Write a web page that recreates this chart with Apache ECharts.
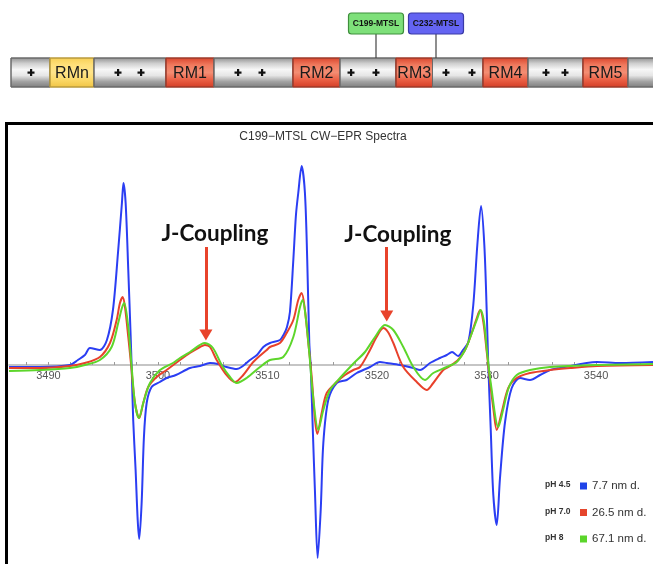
<!DOCTYPE html>
<html>
<head>
<meta charset="utf-8">
<script src="https://cdn.jsdelivr.net/npm/echarts@6/dist/echarts.min.js"></script>
<style>
html,body{margin:0;padding:0;background:#fff;}
#chart{width:653px;height:564px;}
</style>
</head>
<body>
<div id="chart"></div>
<script>
// ---------- Domain schematic (sequence positions along the bar) ----------
const domainStart = [11, 50, 94, 166, 214, 293, 340, 396, 432.5, 483, 528, 583, 628];
const domainEnd   = [50, 94, 166, 214, 293, 340, 396, 432.5, 483, 528, 583, 628, 665];
const domainName  = ['', 'RMn', '', 'RM1', '', 'RM2', '', 'RM3', '', 'RM4', '', 'RM5', ''];
const domainType  = ['linker','RMn','linker','RM','linker','RM','linker','RM','linker','RM','linker','RM','linker'];
const chargePos   = [31, 118, 141, 238, 262, 351, 376, 446, 472, 546, 565];
const siteName    = ['C199-MTSL', 'C232-MTSL'];
const sitePos     = [376, 436];

// ---------- EPR spectra ----------
const chartTitle = 'C199\u2212MTSL CW\u2212EPR Spectra';
const fieldLabels = [3490, 3500, 3510, 3520, 3530, 3540];
const fieldTicks = [3488,3490,3492,3494,3496,3498,3500,3502,3504,3506,3508,3510,3512,3514,3516,3518,3520,3522,3524,3526,3528,3530,3532,3534,3536,3538,3540,3542,3544];
const seriesNames = ['7.7 nm d.', '26.5 nm d.', '67.1 nm d.'];
const phLabels = ['pH 4.5', 'pH 7.0', 'pH 8'];

const ph45 = [[3486.4,-2],[3489.22,-2],[3491.96,0],[3492.69,5],[3493.33,10],[3493.79,17],[3494.7,15],[3495.34,25],[3495.89,55],[3496.35,112],[3496.71,162],[3496.85,182],[3497.05,162],[3497.29,95],[3497.51,28],[3497.6,-2],[3497.74,-55],[3497.96,-105],[3498.15,-155],[3498.29,-174],[3498.51,-138],[3498.72,-72],[3498.97,-38],[3499.42,-22],[3500.18,-17],[3500.79,-13],[3501.64,-10],[3502.92,-3],[3503.84,-1],[3504.75,2],[3505.48,1],[3506.27,-2],[3507.19,-4],[3507.76,-1],[3508.4,5],[3509.04,10],[3509.62,18],[3510.23,22],[3511.14,25],[3511.51,31],[3511.78,38],[3512.05,53],[3512.36,105],[3512.6,150],[3512.81,172],[3513.12,199],[3513.42,172],[3513.63,105],[3513.82,22],[3513.95,-2],[3514.13,-62],[3514.34,-128],[3514.58,-193],[3514.86,-145],[3515.1,-78],[3515.55,-35],[3516.32,-18],[3517.23,-15],[3518.15,-8],[3519.36,-2],[3520.27,3],[3520.89,2],[3522.1,0],[3523.32,-3],[3523.93,-5],[3524.84,2],[3525.75,7],[3526.37,10],[3526.85,13],[3527.4,9],[3527.85,15],[3528.34,23],[3528.79,60],[3529.16,120],[3529.5,159],[3529.8,120],[3530.02,53],[3530.16,0],[3530.38,-63],[3530.62,-130],[3530.93,-160],[3531.23,-113],[3531.69,-57],[3532.3,-23],[3533.06,-13],[3533.97,-15],[3534.89,-10],[3535.8,-5],[3536.71,-3],[3540.09,3],[3542.19,2],[3545.2,3]];

const ph70 = [[3486.4,-3],[3489.22,-3],[3491.96,-1],[3493.33,2],[3494.7,8],[3495.62,22],[3496.23,45],[3496.53,62],[3496.78,68],[3496.99,58],[3497.29,28],[3497.53,2],[3497.9,-38],[3498.29,-53],[3498.66,-38],[3499.11,-22],[3499.88,-12],[3500.79,-5],[3502.01,5],[3502.92,12],[3503.84,18],[3504.29,20],[3504.75,18],[3505.36,5],[3506.12,-8],[3507.03,-17],[3507.79,-10],[3508.7,3],[3509.93,15],[3510.23,18],[3511.14,22],[3511.75,32],[3512.36,45],[3512.81,65],[3513.12,72],[3513.42,55],[3513.73,22],[3514.04,-12],[3514.34,-55],[3514.55,-69],[3514.95,-48],[3515.41,-28],[3516.32,-17],[3517.08,-10],[3517.84,-5],[3518.45,-2],[3519.36,15],[3519.91,27],[3520.58,37],[3521.0,33],[3521.49,22],[3522.4,-2],[3523.63,-17],[3524.54,-25],[3525.14,-18],[3526.05,-5],[3526.67,-1],[3527.4,5],[3528.04,15],[3528.49,27],[3529.11,47],[3529.41,55],[3529.71,43],[3530.02,13],[3530.32,-17],[3530.64,-45],[3530.93,-65],[3531.39,-47],[3531.99,-23],[3532.76,-13],[3533.97,-8],[3535.8,-5],[3537.63,-3],[3540.09,-1],[3545.2,0]];

const ph80 = [[3486.4,-6],[3489.22,-5],[3491.96,-3],[3493.33,0],[3494.7,5],[3495.77,18],[3496.37,42],[3496.71,57],[3496.92,62],[3497.29,38],[3497.6,-2],[3497.9,-38],[3498.26,-53],[3498.66,-38],[3499.27,-18],[3500.18,-5],[3501.37,2],[3502.01,7],[3502.92,13],[3504.29,22],[3505.02,17],[3505.82,0],[3506.58,-12],[3507.19,-18],[3508.1,-13],[3509.32,-2],[3510.23,5],[3511.44,8],[3512.36,28],[3512.97,58],[3513.21,65],[3513.52,45],[3513.82,12],[3514.13,-28],[3514.64,-65],[3515.1,-45],[3515.71,-25],[3516.62,-13],[3517.81,1],[3518.9,13],[3519.82,28],[3520.73,40],[3521.49,35],[3522.4,18],[3523.32,-2],[3524.38,-15],[3525.14,-8],[3526.37,-2],[3527.28,3],[3528.04,15],[3528.49,27],[3529.11,45],[3529.47,55],[3529.77,43],[3530.05,13],[3530.41,-20],[3531.08,-62],[3531.51,-45],[3532.05,-22],[3532.76,-10],[3533.97,-5],[3535.8,-2],[3540.09,0],[3545.2,1]];

// J-coupling annotations: label anchor and arrow (field, from intensity, to intensity)
const jText = 'J-Coupling';
const jLabelAt = [[3505.2, 131], [3521.9, 130]];
const jArrowField = [3504.38, 3520.89];
const jArrowFrom = [118, 118];
const jArrowTo = [30, 49];

const chart = echarts.init(document.getElementById('chart'), null, {renderer: 'canvas'});

function vgrad(stops) {
  return {type: 'linear', x: 0, y: 0, x2: 0, y2: 1,
    colorStops: stops.map((c, k) => ({offset: k / (stops.length - 1), color: c}))};
}

function renderDomain(params, api) {
  const i = params.dataIndex;
  const a = api.coord([api.value(0), 0]);
  const b = api.coord([api.value(1), 0]);
  const cs = params.coordSys;
  const t = domainType[i];
  let fill, stroke;
  if (t === 'RM') { fill = vgrad(['#d9442c', '#f07a5e', '#f38d73', '#ea5f44', '#d33d26']); stroke = '#9c3a2a'; }
  else if (t === 'RMn') { fill = vgrad(['#f7cf55', '#ffe07a', '#ffe489', '#fbd867', '#f0c445']); stroke = '#b89a3c'; }
  else { fill = vgrad(['#8e8e8e', '#cfcfcf', '#f6f6f6', '#e6e6e6', '#a3a3a3', '#7d7d7d']); stroke = '#6a6a6a'; }
  const children = [{
    type: 'rect',
    shape: {x: a[0], y: cs.y, width: b[0] - a[0], height: cs.height},
    style: {fill: fill, stroke: stroke, lineWidth: 1}
  }];
  if (domainName[i]) {
    children.push({
      type: 'text',
      style: {text: domainName[i], x: (a[0] + b[0]) / 2, y: cs.y + cs.height / 2 + 1,
        align: 'center', verticalAlign: 'middle', fill: '#1a1a1a',
        font: '500 16px "Liberation Sans", Arial, sans-serif'}
    });
  }
  return {type: 'group', children: children};
}

function renderCharge(params, api) {
  const p = api.coord([api.value(0), 0]);
  const cs = params.coordSys;
  const cy = cs.y + cs.height / 2;
  return {type: 'group', children: [
    {type: 'rect', shape: {x: p[0] - 3.5, y: cy - 1, width: 7, height: 2.2}, style: {fill: '#111'}},
    {type: 'rect', shape: {x: p[0] - 1, y: cy - 3.5, width: 2.2, height: 7}, style: {fill: '#111'}}
  ]};
}

const siteFill = ['#7ee07a', '#6464f2'];
const siteStroke = ['#3f8f3c', '#3a3aa6'];
function renderSite(params, api) {
  const i = params.dataIndex;
  const p = api.coord([api.value(0), 0]);
  const cs = params.coordSys;
  const boxH = 21, boxW = 55, boxTop = cs.y - 45;
  return {type: 'group', children: [
    {type: 'line', shape: {x1: p[0], y1: boxTop + boxH, x2: p[0], y2: cs.y}, style: {stroke: '#444', lineWidth: 1.2}},
    {type: 'rect', shape: {x: p[0] - boxW / 2, y: boxTop, width: boxW, height: boxH, r: 3},
      style: {fill: siteFill[i], stroke: siteStroke[i], lineWidth: 1.2}},
    {type: 'text', style: {text: siteName[i], x: p[0], y: boxTop + boxH / 2 + 0.5, align: 'center', verticalAlign: 'middle',
      fill: '#111', font: 'bold 8.5px "Liberation Sans", Arial, sans-serif'}}
  ]};
}

const colors = ['#2b3ef3', '#e8412b', '#5dd62b'];
const FIELD_MIN = 3486.4, FIELD_MAX = 3545.2;

const option = {
  animation: false,
  color: colors,
  grid: [
    {left: 9, top: 125, width: 644, height: 440, containLabel: false, outerBoundsMode: 'none'},
    {left: 0, top: 58, width: 653, height: 29, containLabel: false, outerBoundsMode: 'none'},
    {left: 9, top: 125, width: 644, height: 240, containLabel: false, outerBoundsMode: 'none'}
  ],
  xAxis: [
    {type: 'value', gridIndex: 0, min: FIELD_MIN, max: FIELD_MAX, show: false},
    {type: 'value', gridIndex: 1, min: 0, max: 653, show: false},
    {
      type: 'value', gridIndex: 2, min: FIELD_MIN, max: FIELD_MAX, position: 'bottom',
      axisLine: {onZero: false, lineStyle: {color: '#b3b3b3', width: 1.5}},
      axisTick: {show: true, inside: true, length: 3, customValues: fieldTicks, lineStyle: {color: '#9a9a9a', width: 1}},
      axisLabel: {customValues: fieldLabels, color: '#555', fontSize: 11, margin: 5,
        fontFamily: '"Liberation Sans", Arial, sans-serif', formatter: function (v) { return String(v); }},
      splitLine: {show: false}
    }
  ],
  yAxis: [
    {type: 'value', gridIndex: 0, min: -200, max: 240, show: false, splitLine: {show: false}},
    {type: 'value', gridIndex: 1, min: 0, max: 1, show: false},
    {type: 'value', gridIndex: 2, min: 0, max: 1, show: false}
  ],
  legend: {
    orient: 'vertical', left: 575, top: 474, itemWidth: 7, itemHeight: 7, itemGap: 12.5,
    icon: 'rect', data: seriesNames,
    textStyle: {fontSize: 11.5, color: '#333', lineHeight: 14, fontFamily: '"Liberation Sans", Arial, sans-serif'}
  },
  series: [
    {name: seriesNames[0], type: 'line', data: ph45, xAxisIndex: 0, yAxisIndex: 0, showSymbol: false, smooth: 0.3,
      lineStyle: {width: 2, color: colors[0]}, itemStyle: {color: '#1f43e8'}, z: 2},
    {name: seriesNames[1], type: 'line', data: ph70, xAxisIndex: 0, yAxisIndex: 0, showSymbol: false, smooth: 0.3,
      lineStyle: {width: 2, color: colors[1]}, itemStyle: {color: '#e5452c'}, z: 3},
    {name: seriesNames[2], type: 'line', data: ph80, xAxisIndex: 0, yAxisIndex: 0, showSymbol: false, smooth: 0.3,
      lineStyle: {width: 2, color: colors[2]}, itemStyle: {color: '#5bd52a'}, z: 4,
      markLine: {
        silent: true, animation: false, symbol: ['none', 'triangle'], symbolSize: [13, 11],
        lineStyle: {color: '#e8432b', width: 3, type: 'solid'}, label: {show: false},
        data: jArrowField.map((f, k) => [{coord: [f, jArrowFrom[k]]}, {coord: [f, jArrowTo[k]]}])
      }},
    {type: 'custom', name: 'domains', xAxisIndex: 1, yAxisIndex: 1, renderItem: renderDomain,
      data: domainStart.map((s, i) => [s, domainEnd[i]]), silent: true, z: 1},
    {type: 'custom', name: 'charges', xAxisIndex: 1, yAxisIndex: 1, renderItem: renderCharge,
      data: chargePos.map(p => [p]), silent: true, z: 2},
    {type: 'custom', name: 'sites', xAxisIndex: 1, yAxisIndex: 1, renderItem: renderSite,
      data: sitePos.map(p => [p]), silent: true, z: 3}
  ]
};
chart.setOption(option);

// Overlay texts (frame, title, J-coupling labels, pH labels)
const graphics = [
  {type: 'rect', shape: {x: 6.5, y: 123.5, width: 700, height: 500}, style: {fill: 'none', stroke: '#000', lineWidth: 3}, z: 100},
  {type: 'text', style: {text: chartTitle, x: 323, y: 137, align: 'center', verticalAlign: 'middle', fill: '#333',
    font: '12px "Liberation Sans", Arial, sans-serif'}, z: 100}
];
jLabelAt.forEach(function (pt) {
  const px = chart.convertToPixel({gridIndex: 0}, pt);
  graphics.push({type: 'text', style: {text: jText, x: px[0], y: px[1], align: 'center', verticalAlign: 'middle', fill: '#111',
    font: 'bold 22.5px Lato, "Open Sans", sans-serif'}, z: 100});
});
phLabels.forEach(function (t, k) {
  graphics.push({type: 'text', style: {text: t, x: 545, y: 485 + k * 26.5, align: 'left', verticalAlign: 'middle', fill: '#333',
    font: '600 8.5px "Liberation Sans", Arial, sans-serif'}, z: 100});
});
chart.setOption({graphic: graphics});
</script>
</body>
</html>
